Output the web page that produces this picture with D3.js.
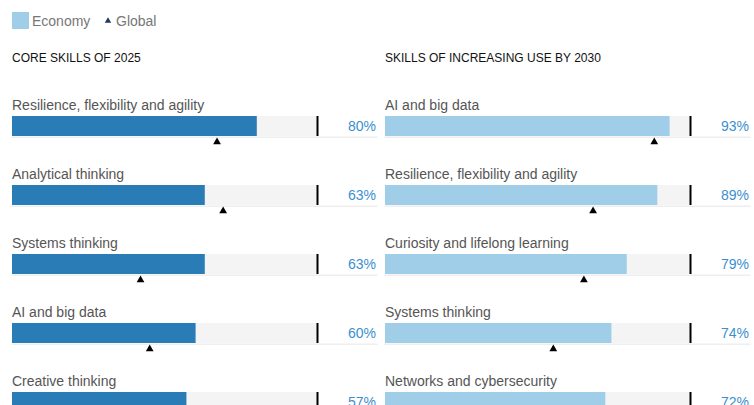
<!DOCTYPE html>
<html>
<head>
<meta charset="utf-8">
<script src="https://cdn.jsdelivr.net/npm/d3@7"></script>
<style>
	body { margin: 0; background: #fff; }
	svg text { font-family: "Liberation Sans", Arial, sans-serif; }
</style>
</head>
<body>
<div class="viz"></div>
<script>
// data
let coreSkills = ['Resilience, flexibility and agility', 'Analytical thinking', 'Systems thinking', 'AI and big data', 'Creative thinking'];
let coreEconomy = [80, 63, 63, 60, 57];
let coreGlobal = [67, 69, 42, 45, 40];

let risingSkills = ['AI and big data', 'Resilience, flexibility and agility', 'Curiosity and lifelong learning', 'Systems thinking', 'Networks and cybersecurity'];
let risingEconomy = [93, 89, 79, 74, 72];
let risingGlobal = [88, 68, 65, 55, 60];

let panelTitles = ['CORE SKILLS OF 2025', 'SKILLS OF INCREASING USE BY 2030'];

let width = 754, height = 405;

let svg = d3.select('.viz').append('svg')
	.attr('width', width)
	.attr('height', height);

// legend
let legend = svg.append('g');
legend.append('rect')
	.attr('x', 12).attr('y', 12)
	.attr('width', 17).attr('height', 17)
	.attr('fill', '#a0cde8');
legend.append('text')
	.attr('x', 32).attr('y', 26)
	.attr('font-size', 14)
	.attr('fill', '#777')
	.text('Economy');
legend.append('path')
	.attr('d', d3.symbol(d3.symbolTriangle, 18)())
	.attr('transform', 'translate(108,21)')
	.attr('fill', '#1f3a60');
legend.append('text')
	.attr('x', 116).attr('y', 26)
	.attr('font-size', 14)
	.attr('fill', '#777')
	.text('Global');

let panels = [
	{ x0: 12, title: panelTitles[0], skills: coreSkills, economy: coreEconomy, global: coreGlobal, color: '#2a7cb7' },
	{ x0: 385, title: panelTitles[1], skills: risingSkills, economy: risingEconomy, global: risingGlobal, color: '#a0cde8' }
];

let barW = 306, rowStep = 69, firstBar = 116, barH = 20;

panels.forEach(function(p) {
	let x = d3.scaleLinear().domain([0, 100]).range([p.x0, p.x0 + barW]);
	let y = d3.scaleBand().domain(p.skills).range([firstBar, firstBar + rowStep * p.skills.length]);

	let g = svg.append('g');

	g.append('text')
		.attr('x', p.x0).attr('y', 62)
		.attr('font-size', 12)
		.attr('fill', '#111')
		.text(p.title);

	let rows = g.selectAll('g.row')
		.data(p.skills.map(function(s, i) { return { skill: s, eco: p.economy[i], glob: p.global[i] }; }))
		.enter().append('g')
		.attr('class', 'row')
		.attr('transform', function(d) { return 'translate(0,' + y(d.skill) + ')'; });

	rows.append('text')
		.attr('x', p.x0).attr('y', -6)
		.attr('font-size', 14)
		.attr('fill', '#555')
		.text(function(d) { return d.skill; });

	rows.append('rect')
		.attr('x', p.x0).attr('y', 0)
		.attr('width', barW).attr('height', barH)
		.attr('fill', '#f4f4f4');

	rows.append('rect')
		.attr('x', p.x0 - 0.5).attr('y', barH + 0.5)
		.attr('width', 366).attr('height', 1.5)
		.attr('fill', '#eeeeee');

	rows.append('rect')
		.attr('x', x(0)).attr('y', 0)
		.attr('width', function(d) { return x(d.eco) - x(0); })
		.attr('height', barH)
		.attr('fill', p.color);

	rows.append('rect')
		.attr('x', x(100) - 1.5).attr('y', 0)
		.attr('width', 2).attr('height', barH)
		.attr('fill', '#000');

	rows.append('text')
		.attr('x', p.x0 + 364).attr('y', barH / 2 + 5)
		.attr('text-anchor', 'end')
		.attr('font-size', 14)
		.attr('fill', '#3b8fcf')
		.text(function(d) { return d.eco + '%'; });

	rows.append('path')
		.attr('d', d3.symbol(d3.symbolTriangle, 26)())
		.attr('transform', function(d) { return 'translate(' + x(d.glob) + ',' + (barH + 6) + ')'; })
		.attr('fill', '#000');
});
</script>
</body>
</html>
